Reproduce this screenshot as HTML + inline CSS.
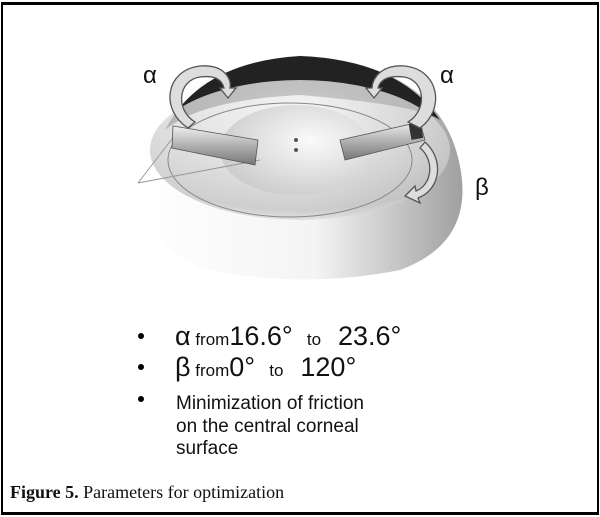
<!DOCTYPE html>
<html><head><style>
body{margin:0;width:600px;height:517px;background:#fff;overflow:hidden;position:relative;font-family:"Liberation Sans",sans-serif}
.frame{position:absolute;left:1px;top:2px;width:594px;height:507px;border:2px solid #000;border-top-width:3px;border-bottom-width:3px}
.t{position:absolute;color:#111;white-space:nowrap}
.b{position:absolute;width:6px;height:6px;border-radius:3px;background:#000}
</style></head><body>
<div class="frame"></div>
<svg width="600" height="517" style="position:absolute;left:0;top:0">
<defs>
<radialGradient id="dome" cx="0.5" cy="0.25" r="0.8">
<stop offset="0" stop-color="#f6f6f6"/><stop offset="0.5" stop-color="#dcdcdc"/><stop offset="0.85" stop-color="#c4c4c4"/><stop offset="1" stop-color="#eee"/></radialGradient>
<linearGradient id="low" x1="0" x2="1" y1="0" y2="0"><stop offset="0" stop-color="#fff"/><stop offset="0.55" stop-color="#f4f4f4"/><stop offset="1" stop-color="#a0a0a0"/></linearGradient>
<radialGradient id="inner" cx="0.6" cy="0.4" r="0.7"><stop offset="0" stop-color="#fafafa"/><stop offset="1" stop-color="#c8c8c8"/></radialGradient>
<linearGradient id="tube" x1="0" y1="0" x2="0" y2="1"><stop offset="0" stop-color="#f0f0f0"/><stop offset="0.5" stop-color="#b0b0b0"/><stop offset="1" stop-color="#777"/></linearGradient>
</defs>
<path d="M136,185 Q150,70 300,55 Q450,65 462,180 Q468,245 400,270 Q300,290 200,268 Q140,240 136,185Z" fill="url(#low)"/>
<path d="M165,130 Q200,62 300,56 Q400,60 440,120 Q420,105 300,95 Q200,100 165,130Z" fill="#222"/>
<ellipse cx="300" cy="150" rx="150" ry="70" fill="url(#dome)" opacity="0.8"/>
<ellipse cx="296" cy="150" rx="76" ry="45" fill="url(#inner)"/>
<ellipse cx="290" cy="160" rx="122" ry="57" fill="none" stroke="#888" stroke-width="1"/>
<path d="M138,183 L175,135 M138,183 L260,160" stroke="#999" fill="none"/>
<path d="M173,126 L258,140 L255,165 L172,148Z" fill="url(#tube)" stroke="#555" stroke-width="0.8"/>
<path d="M340,140 L420,122 L425,140 L345,160Z" fill="url(#tube)" stroke="#555" stroke-width="0.8"/>
<rect x="410" y="123" width="12" height="16" fill="#333" transform="rotate(-10 416 131)"/>
<circle cx="296" cy="140" r="2" fill="#555"/><circle cx="296" cy="150" r="2" fill="#555"/>
<g fill="#ddd" stroke="#555" stroke-width="1.3">
<path d="M188,128 C160,110 165,70 200,66 C225,64 232,80 230,88 L236,88 L228,98 L220,88 L224,88 C222,80 215,75 200,77 C178,80 175,110 195,122Z"/>
<path d="M420,128 C445,110 440,70 405,66 C380,64 372,80 372,88 L366,88 L374,98 L382,88 L378,88 C380,80 388,75 404,77 C425,80 428,110 408,122Z"/>
<path d="M425,142 C445,160 440,190 418,198 L420,203 L405,196 L415,186 L416,191 C432,185 435,160 420,148Z"/>
</g>
</svg>
<div class="t" style="left:143px;top:62px;font-size:24px">α</div>
<div class="t" style="left:440px;top:62px;font-size:24px">α</div>
<div class="t" style="left:475px;top:174px;font-size:24px">β</div>
<div class="b" style="left:138px;top:333px"></div>
<div class="b" style="left:138px;top:364px"></div>
<div class="b" style="left:138px;top:396px"></div>
<div class="t" style="left:175px;top:321px;font-size:27px">α<span style="font-size:17px"> from</span>16.6°<span style="font-size:17px">&nbsp;&nbsp; to &nbsp;</span> 23.6°</div>
<div class="t" style="left:175px;top:352px;font-size:27px">β<span style="font-size:17px"> from</span>0°<span style="font-size:17px">&nbsp;&nbsp; to &nbsp;</span> 120°</div>
<div class="t" style="left:176px;top:393px;font-size:19px;line-height:22.5px">Minimization of friction<br>on the central corneal<br>surface</div>
<div class="t" style="left:10px;top:482px;font-size:18px;font-family:'Liberation Serif',serif"><b>Figure 5.</b> Parameters for optimization</div>
</body></html>
